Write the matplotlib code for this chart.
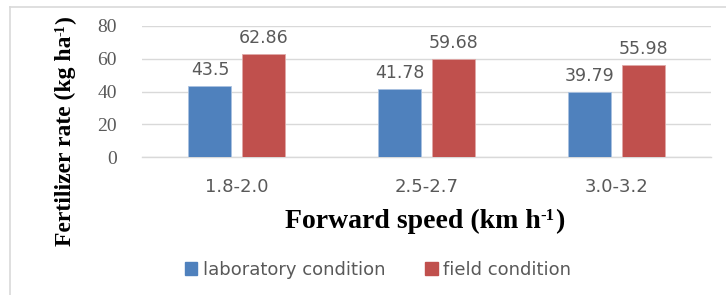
import matplotlib
matplotlib.use("Agg")
import matplotlib.pyplot as plt
from matplotlib.lines import Line2D
from matplotlib.patches import Patch
import numpy as np

categories = ["1.8-2.0", "2.5-2.7", "3.0-3.2"]
laboratory = [43.5, 41.78, 39.79]
field = [62.86, 59.68, 55.98]
lab_labels = ["43.5", "41.78", "39.79"]
field_labels = ["62.86", "59.68", "55.98"]
series_names = ["laboratory condition", "field condition"]
yticks = [0, 20, 40, 60, 80]

blue = "#4f81bd"
red = "#c0504d"
gray_txt = "#595959"

W, H = 726, 295
fig = plt.figure(figsize=(W / 100, H / 100), dpi=100)
ax = fig.add_axes([142 / W, 1 - 157 / H, (711 - 142) / W, (157 - 26) / H])

x = np.arange(len(categories))
bw = 0.227
off = 0.142
b1 = ax.bar(x - off, laboratory, bw, color=blue, edgecolor="#a9c1e0", linewidth=0.6, zorder=3)
b2 = ax.bar(x + off, field, bw, color=red, edgecolor="#e0a9a8", linewidth=0.6, zorder=3)

for bars, labels in ((b1, lab_labels), (b2, field_labels)):
    for rect, lab in zip(bars, labels):
        ax.annotate(lab, (rect.get_x() + rect.get_width() / 2, rect.get_height()),
                    xytext=(0, 5), textcoords="offset points", ha="center", va="bottom",
                    fontsize=12.5, color=gray_txt, family="DejaVu Sans")

ax.set_xlim(-0.5, len(categories) - 0.5)
ax.set_ylim(0, 80)
ax.set_yticks(yticks)
ax.set_yticklabels([str(v) for v in yticks], family="Liberation Serif", fontsize=14,
                   color=gray_txt)
ax.set_xticks(x)
ax.set_xticklabels(categories, family="DejaVu Sans", fontsize=13, color=gray_txt)
ax.tick_params(axis="both", length=0)
ax.tick_params(axis="y", pad=18)
ax.tick_params(axis="x", pad=15)
ax.yaxis.grid(True, color="#d9d9d9", linewidth=1, zorder=0)
ax.set_axisbelow(True)
for s in ["top", "right", "left"]:
    ax.spines[s].set_visible(False)
ax.spines["bottom"].set_color("#d9d9d9")
ax.spines["bottom"].set_linewidth(1)

renderer = fig.canvas.get_renderer()


def compose(parts, start_px, base_px, vertical=False):
    """parts: list of (text, size, rise_fraction). Positions in pixels from top-left."""
    pos = start_px
    for txt, size, rise in parts:
        t = fig.text(0, 0, txt, family="Liberation Serif", fontweight="bold",
                     fontsize=size, color="black", ha="left", va="baseline",
                     rotation=90 if vertical else 0, rotation_mode="anchor")
        rise_px = rise * size * 100 / 72
        if vertical:
            t.set_position(((base_px - rise_px) / W, 1 - pos / H))
        else:
            t.set_position((pos / W, 1 - (base_px - rise_px) / H))
        ext = t.get_window_extent(renderer)
        if vertical:
            pos -= ext.height
        else:
            pos += ext.width


compose([("Fertilizer rate (kg ha", 17, 0), ("-1", 10, 0.45), (")", 17, 0)],
        start_px=246, base_px=71, vertical=True)
compose([("Forward speed (km h", 20, 0), ("-1", 12, 0.45), (")", 20, 0)],
        start_px=285, base_px=228)

handles = [Patch(facecolor=blue, edgecolor=blue), Patch(facecolor=red, edgecolor=red)]
leg = fig.legend(handles, series_names, loc="center", bbox_to_anchor=(378 / W, 1 - 270 / H),
                 ncol=2, frameon=False, prop={"family": "DejaVu Sans", "size": 13},
                 handlelength=0.7, handleheight=0.7, handletextpad=0.3, columnspacing=2.2)
for t in leg.get_texts():
    t.set_color(gray_txt)

fig.add_artist(Line2D([10 / W, 10 / W], [0, 1 - 7 / H], transform=fig.transFigure,
                      color="#d9d9d9", linewidth=1.2))
fig.add_artist(Line2D([10 / W, 1], [1 - 7 / H, 1 - 7 / H], transform=fig.transFigure,
                      color="#d9d9d9", linewidth=1.2))

fig.savefig("out.png", dpi=100)
